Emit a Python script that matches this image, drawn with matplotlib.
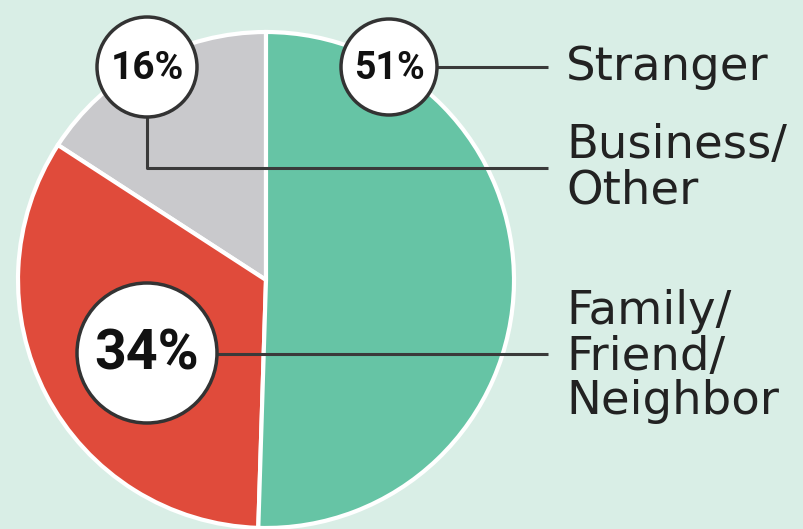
import matplotlib.pyplot as plt
from matplotlib.patches import Circle

# data
labels = ["Stranger", "Business/\nOther", "Family/\nFriend/\nNeighbor"]
shares = [51, 16, 34]
pct_text = ["51%", "16%", "34%"]
colors = ["#66c4a5", "#c9c9cc", "#e04b3b"]

H = 529


def Y(py):
    # pixel row -> data y
    return H - py


fig = plt.figure(figsize=(8.04, 5.29), dpi=100)
fig.patch.set_facecolor("#d9eee6")
ax = fig.add_axes([0, 0, 1, 1])
ax.set_facecolor("#d9eee6")

# gray, red counterclockwise from the top, green fills the right side
ax.pie([shares[1], shares[2], shares[0]], colors=[colors[1], colors[2], colors[0]],
       startangle=90, counterclock=True, center=(266, Y(280)), radius=248,
       wedgeprops=dict(edgecolor="white", linewidth=3))

ax.set_xlim(0, 804)
ax.set_ylim(0, H)
ax.set_aspect("equal")
ax.axis("off")

line_kw = dict(color="#3a3a3a", lw=2.2, solid_capstyle="butt", zorder=3)
xr = 548

# leader lines
ax.plot([437, xr], [Y(67), Y(67)], **line_kw)
ax.plot([147, 147, xr], [Y(117), Y(168), Y(168)], **line_kw)
ax.plot([217, xr], [Y(354), Y(354)], **line_kw)

# bubbles
bubbles = [(389, 67, 48, 27), (147, 67, 50, 28), (147, 353, 70, 40)]
for (cx, cy, r, fs), t in zip(bubbles, pct_text):
    ax.add_patch(Circle((cx, Y(cy)), r, facecolor="white", edgecolor="#333333",
                        lw=2.5, zorder=4))
    ax.text(cx, Y(cy) - 1, t, ha="center", va="center", fontsize=fs,
            fontweight="bold", family=["Roboto", "DejaVu Sans"],
            color="#111111", zorder=5)

# category labels
label_y = [67, 168, 357]
for lab, ly in zip(labels, label_y):
    ax.text(566, Y(ly), lab, ha="left", va="center", fontsize=33.5,
            family="DejaVu Sans", color="#222222", linespacing=1.0)

fig.savefig("out.png", dpi=100, facecolor=fig.get_facecolor())
